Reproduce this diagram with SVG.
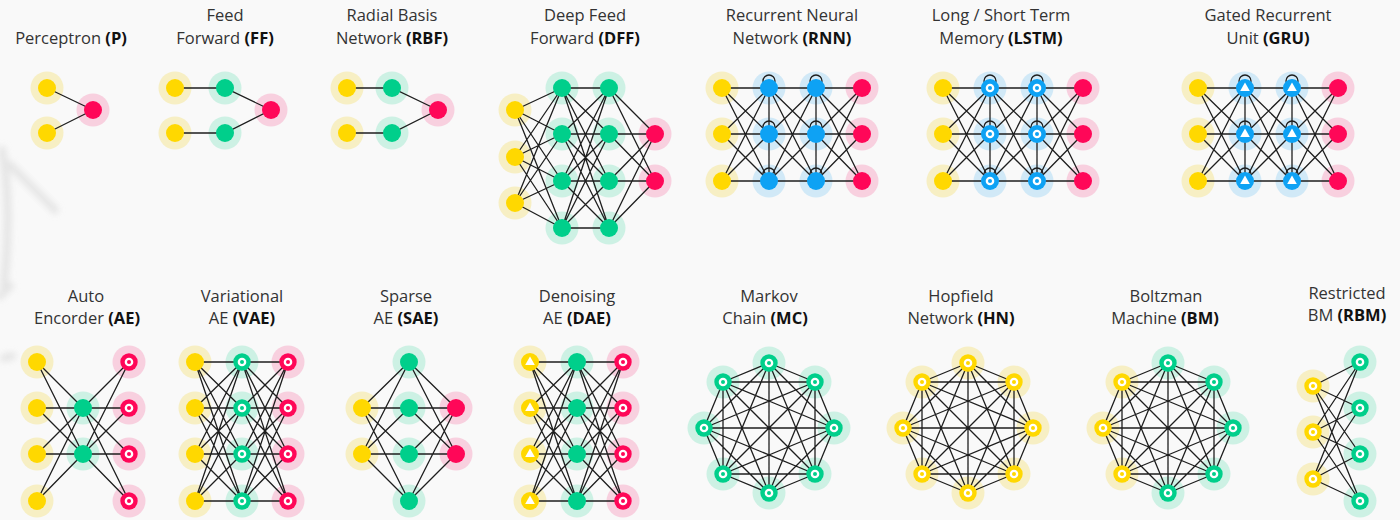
<svg xmlns="http://www.w3.org/2000/svg" xmlns:xlink="http://www.w3.org/1999/xlink" width="1400" height="520" viewBox="0 0 1400 520">
<style>
.e{fill:none;stroke:#1e1e1e;stroke-width:1.3}
.t{font-family:"Open Sans","Liberation Sans",sans-serif;font-size:16.5px;fill:#333;text-anchor:middle}
.b{font-weight:bold;fill:#111}
.cy{fill:#ffd800}.cg{fill:#00cf8b}.cb{fill:#0ea2f4}.cr{fill:#ff0758}.w{fill:#fff}
.hy{fill:#f7efc4}.hg{fill:#cdf1e4}.hb{fill:#d1e9f7}.hr{fill:#f8d0df}
</style>
<defs>
<filter id="blur" x="-50%" y="-50%" width="200%" height="200%"><feGaussianBlur stdDeviation="3"/></filter>
<circle id="hY" r="16.5" class="hy"/>
<circle id="hG" r="16.5" class="hg"/>
<circle id="hB" r="16.5" class="hb"/>
<circle id="hR" r="16.5" class="hr"/>
<circle id="Y" r="9" class="cy"/>
<circle id="G" r="9" class="cg"/>
<circle id="B" r="9" class="cb"/>
<circle id="R" r="9" class="cr"/>
<g id="RR"><circle r="8.7" class="cr"/><circle r="4.3" class="w"/><circle r="2" class="cr"/></g>
<g id="GR"><circle r="8.7" class="cg"/><circle r="4.3" class="w"/><circle r="2" class="cg"/></g>
<g id="YR"><circle r="8.7" class="cy"/><circle r="4.3" class="w"/><circle r="2" class="cy"/></g>
<g id="BR"><circle r="9" class="cb"/><circle r="4.3" class="w"/><circle r="2" class="cb"/></g>
<g id="BT"><circle r="9" class="cb"/><path d="M0 -5.5L4.8 3H-4.8Z" class="w"/></g>
<g id="YT"><circle r="9" class="cy"/><path d="M0 -5.5L4.8 3H-4.8Z" class="w"/></g>
<g id="h3x4"><use href="#hY" x="0" y="0"/><use href="#hY" x="0" y="46"/><use href="#hY" x="0" y="93"/><use href="#hB" x="47" y="0"/><use href="#hB" x="47" y="46"/><use href="#hB" x="47" y="93"/><use href="#hB" x="94" y="0"/><use href="#hB" x="94" y="46"/><use href="#hB" x="94" y="93"/><use href="#hR" x="140" y="0"/><use href="#hR" x="140" y="46"/><use href="#hR" x="140" y="93"/></g>
<g id="h4x3"><use href="#hY" x="0" y="0"/><use href="#hY" x="0" y="46"/><use href="#hY" x="0" y="92"/><use href="#hY" x="0" y="139"/><use href="#hG" x="47" y="0"/><use href="#hG" x="47" y="46"/><use href="#hG" x="47" y="92"/><use href="#hG" x="47" y="139"/><use href="#hR" x="93" y="0"/><use href="#hR" x="93" y="46"/><use href="#hR" x="93" y="92"/><use href="#hR" x="93" y="139"/></g>
<g id="rnnE"><path class="e" d="M0 0L47 0M0 0L47 46M0 0L47 93M0 46L47 0M0 46L47 46M0 46L47 93M0 93L47 0M0 93L47 46M0 93L47 93M47 0L94 0M47 0L94 46M47 0L94 93M47 46L94 0M47 46L94 46M47 46L94 93M47 93L94 0M47 93L94 46M47 93L94 93M94 0L140 0M94 0L140 46M94 0L140 93M94 46L140 0M94 46L140 46M94 46L140 93M94 93L140 0M94 93L140 46M94 93L140 93M47 0V93M94 0V93"/><circle class="e" cx="47" cy="-7" r="6"/><circle class="e" cx="47" cy="39" r="6"/><circle class="e" cx="47" cy="86" r="6"/><circle class="e" cx="94" cy="-7" r="6"/><circle class="e" cx="94" cy="39" r="6"/><circle class="e" cx="94" cy="86" r="6"/></g>
<path id="ae3" class="e" d="M0 0L47 0M0 0L47 46M0 0L47 92M0 0L47 139M0 46L47 0M0 46L47 46M0 46L47 92M0 46L47 139M0 92L47 0M0 92L47 46M0 92L47 92M0 92L47 139M0 139L47 0M0 139L47 46M0 139L47 92M0 139L47 139M47 0L93 0M47 0L93 46M47 0L93 92M47 0L93 139M47 46L93 0M47 46L93 46M47 46L93 92M47 46L93 139M47 92L93 0M47 92L93 46M47 92L93 92M47 92L93 139M47 139L93 0M47 139L93 46M47 139L93 92M47 139L93 139"/>
<path id="k8" class="e" d="M0 -65L46 -46M0 -65L65 0M0 -65L46 46M0 -65L0 65M0 -65L-46 46M0 -65L-65 0M0 -65L-46 -46M46 -46L65 0M46 -46L46 46M46 -46L0 65M46 -46L-46 46M46 -46L-65 0M46 -46L-46 -46M65 0L46 46M65 0L0 65M65 0L-46 46M65 0L-65 0M65 0L-46 -46M46 46L0 65M46 46L-46 46M46 46L-65 0M46 46L-46 -46M0 65L-46 46M0 65L-65 0M0 65L-46 -46M-46 46L-65 0M-46 46L-46 -46M-65 0L-46 -46"/>
</defs>
<rect width="1400" height="520" fill="#f9f9f9"/>
<g filter="url(#blur)" stroke="#e3e3e3" stroke-width="8" fill="none" stroke-linecap="round" opacity="0.9">
<path d="M2 150C8 180 10 230 4 285"/><path d="M10 165C25 180 40 195 55 210"/><path d="M0 296L10 286"/><path d="M4 358L12 356"/>
</g>
<g id="titles" class="t">
<text x="71" y="44">Perceptron <tspan class="b">(P)</tspan></text>
<text x="225" y="21">Feed</text><text x="225" y="44">Forward <tspan class="b">(FF)</tspan></text>
<text x="392" y="21">Radial Basis</text><text x="392" y="44">Network <tspan class="b">(RBF)</tspan></text>
<text x="585" y="21">Deep Feed</text><text x="585" y="44">Forward <tspan class="b">(DFF)</tspan></text>
<text x="792" y="21">Recurrent Neural</text><text x="792" y="44">Network <tspan class="b">(RNN)</tspan></text>
<text x="1001" y="21">Long / Short Term</text><text x="1001" y="44">Memory <tspan class="b">(LSTM)</tspan></text>
<text x="1268" y="21">Gated Recurrent</text><text x="1268" y="44">Unit <tspan class="b">(GRU)</tspan></text>
<text x="86" y="302">Auto</text><text x="87" y="324">Encorder <tspan class="b">(AE)</tspan></text>
<text x="242" y="302">Variational</text><text x="242" y="324">AE <tspan class="b">(VAE)</tspan></text>
<text x="406" y="302">Sparse</text><text x="406" y="324">AE <tspan class="b">(SAE)</tspan></text>
<text x="577" y="302">Denoising</text><text x="577" y="324">AE <tspan class="b">(DAE)</tspan></text>
<text x="769" y="302">Markov</text><text x="765" y="324">Chain <tspan class="b">(MC)</tspan></text>
<text x="961" y="302">Hopfield</text><text x="961" y="324">Network <tspan class="b">(HN)</tspan></text>
<text x="1166" y="302">Boltzman</text><text x="1165" y="324">Machine <tspan class="b">(BM)</tspan></text>
<text x="1347" y="299">Restricted</text><text x="1347" y="321">BM <tspan class="b">(RBM)</tspan></text>
</g>
<g id="halos">
<use href="#hY" x="47" y="88"/><use href="#hY" x="47" y="133"/><use href="#hR" x="93" y="110"/>
<use href="#hY" x="175" y="88"/><use href="#hY" x="175" y="133"/><use href="#hG" x="225" y="88"/><use href="#hG" x="225" y="133"/><use href="#hR" x="271" y="110"/>
<use href="#hY" x="347" y="88"/><use href="#hY" x="347" y="133"/><use href="#hG" x="392" y="88"/><use href="#hG" x="392" y="133"/><use href="#hR" x="438" y="110"/>
<use href="#hY" x="515" y="110"/><use href="#hY" x="515" y="157"/><use href="#hY" x="515" y="203"/>
<use href="#hG" x="562" y="88"/><use href="#hG" x="562" y="134"/><use href="#hG" x="562" y="181"/><use href="#hG" x="562" y="228"/>
<use href="#hG" x="609" y="88"/><use href="#hG" x="609" y="134"/><use href="#hG" x="609" y="181"/><use href="#hG" x="609" y="228"/>
<use href="#hR" x="655" y="134"/><use href="#hR" x="655" y="181"/>
<use href="#h3x4" x="722" y="88"/><use href="#h3x4" x="943" y="88"/><use href="#h3x4" x="1198" y="88"/>
<use href="#hY" x="37" y="362"/><use href="#hY" x="37" y="408"/><use href="#hY" x="37" y="454"/><use href="#hY" x="37" y="501"/>
<use href="#hG" x="83" y="408"/><use href="#hG" x="83" y="454"/>
<use href="#hR" x="129" y="362"/><use href="#hR" x="129" y="408"/><use href="#hR" x="129" y="454"/><use href="#hR" x="129" y="501"/>
<use href="#h4x3" x="195" y="362"/><use href="#h4x3" x="530" y="362"/>
<use href="#hG" x="409" y="362"/><use href="#hG" x="409" y="408"/><use href="#hG" x="409" y="454"/><use href="#hG" x="409" y="501"/>
<use href="#hY" x="362" y="408"/><use href="#hY" x="362" y="454"/><use href="#hR" x="456" y="408"/><use href="#hR" x="456" y="454"/>
<use href="#hG" x="769" y="363"/><use href="#hG" x="815" y="382"/><use href="#hG" x="834" y="428"/><use href="#hG" x="815" y="474"/><use href="#hG" x="769" y="493"/><use href="#hG" x="723" y="474"/><use href="#hG" x="704" y="428"/><use href="#hG" x="723" y="382"/>
<use href="#hY" x="968" y="363"/><use href="#hY" x="1014" y="382"/><use href="#hY" x="1033" y="428"/><use href="#hY" x="1014" y="474"/><use href="#hY" x="968" y="493"/><use href="#hY" x="922" y="474"/><use href="#hY" x="903" y="428"/><use href="#hY" x="922" y="382"/>
<use href="#hG" x="1168" y="363"/><use href="#hG" x="1214" y="382"/><use href="#hG" x="1233" y="428"/><use href="#hG" x="1214" y="474"/><use href="#hG" x="1168" y="493"/><use href="#hY" x="1122" y="474"/><use href="#hY" x="1103" y="428"/><use href="#hY" x="1122" y="382"/>
<use href="#hY" x="1313" y="386"/><use href="#hY" x="1313" y="432"/><use href="#hY" x="1313" y="479"/>
<use href="#hG" x="1360" y="362"/><use href="#hG" x="1360" y="408"/><use href="#hG" x="1360" y="454"/><use href="#hG" x="1360" y="501"/>
</g>
<g id="connectors">
<path id="e-p" class="e" d="M47 88L93 110M47 133L93 110"/>
<path id="e-ff" class="e" d="M175 88H225L271 110M175 133H225L271 110"/>
<path id="e-rbf" class="e" d="M347 88H392L438 110M347 133H392L438 110"/>
<path id="e-dff" class="e" d="M515 110L562 88M515 110L562 134M515 110L562 181M515 110L562 228M515 157L562 88M515 157L562 134M515 157L562 181M515 157L562 228M515 203L562 88M515 203L562 134M515 203L562 181M515 203L562 228M562 88L609 88M562 88L609 134M562 88L609 181M562 88L609 228M562 134L609 88M562 134L609 134M562 134L609 181M562 134L609 228M562 181L609 88M562 181L609 134M562 181L609 181M562 181L609 228M562 228L609 88M562 228L609 134M562 228L609 181M562 228L609 228M609 88L655 134M609 88L655 181M609 134L655 134M609 134L655 181M609 181L655 134M609 181L655 181M609 228L655 134M609 228L655 181"/>
<use id="e-rnn" href="#rnnE" x="722" y="88"/>
<use id="e-lstm" href="#rnnE" x="943" y="88"/>
<use id="e-gru" href="#rnnE" x="1198" y="88"/>
<path id="e-ae" class="e" d="M37 362L83 408M37 362L83 454M37 408L83 408M37 408L83 454M37 454L83 408M37 454L83 454M37 501L83 408M37 501L83 454M83 408L129 362M83 408L129 408M83 408L129 454M83 408L129 501M83 454L129 362M83 454L129 408M83 454L129 454M83 454L129 501"/>
<use id="e-vae" href="#ae3" x="195" y="362"/>
<path id="e-sae" class="e" d="M362 408L409 362M362 408L409 408M362 408L409 454M362 408L409 501M362 454L409 362M362 454L409 408M362 454L409 454M362 454L409 501M409 362L456 408M409 362L456 454M409 408L456 408M409 408L456 454M409 454L456 408M409 454L456 454M409 501L456 408M409 501L456 454"/>
<use id="e-dae" href="#ae3" x="530" y="362"/>
<use id="e-mc" href="#k8" x="769" y="428"/>
<use id="e-hn" href="#k8" x="968" y="428"/>
<use id="e-bm" href="#k8" x="1168" y="428"/>
<path id="e-rbm" class="e" d="M1313 386L1360 362M1313 386L1360 408M1313 386L1360 454M1313 386L1360 501M1313 432L1360 362M1313 432L1360 408M1313 432L1360 454M1313 432L1360 501M1313 479L1360 362M1313 479L1360 408M1313 479L1360 454M1313 479L1360 501"/>
</g>
<g id="nodes">
<g id="p-i1"><use href="#Y" x="47" y="88"/></g><g id="p-i2"><use href="#Y" x="47" y="133"/></g><g id="p-o1"><use href="#R" x="93" y="110"/></g>
<g id="ff-i1"><use href="#Y" x="175" y="88"/></g><g id="ff-i2"><use href="#Y" x="175" y="133"/></g><g id="ff-h1"><use href="#G" x="225" y="88"/></g><g id="ff-h2"><use href="#G" x="225" y="133"/></g><g id="ff-o1"><use href="#R" x="271" y="110"/></g>
<g id="rbf-i1"><use href="#Y" x="347" y="88"/></g><g id="rbf-i2"><use href="#Y" x="347" y="133"/></g><g id="rbf-h1"><use href="#G" x="392" y="88"/></g><g id="rbf-h2"><use href="#G" x="392" y="133"/></g><g id="rbf-o1"><use href="#R" x="438" y="110"/></g>
<g id="dff-i1"><use href="#Y" x="515" y="110"/></g><g id="dff-i2"><use href="#Y" x="515" y="157"/></g><g id="dff-i3"><use href="#Y" x="515" y="203"/></g>
<g id="dff-a1"><use href="#G" x="562" y="88"/></g><g id="dff-a2"><use href="#G" x="562" y="134"/></g><g id="dff-a3"><use href="#G" x="562" y="181"/></g><g id="dff-a4"><use href="#G" x="562" y="228"/></g>
<g id="dff-b1"><use href="#G" x="609" y="88"/></g><g id="dff-b2"><use href="#G" x="609" y="134"/></g><g id="dff-b3"><use href="#G" x="609" y="181"/></g><g id="dff-b4"><use href="#G" x="609" y="228"/></g>
<g id="dff-o1"><use href="#R" x="655" y="134"/></g><g id="dff-o2"><use href="#R" x="655" y="181"/></g>
<g id="rnn-i1"><use href="#Y" x="722" y="88"/></g><g id="rnn-i2"><use href="#Y" x="722" y="134"/></g><g id="rnn-i3"><use href="#Y" x="722" y="181"/></g>
<g id="rnn-a1"><use href="#B" x="769" y="88"/></g><g id="rnn-a2"><use href="#B" x="769" y="134"/></g><g id="rnn-a3"><use href="#B" x="769" y="181"/></g>
<g id="rnn-b1"><use href="#B" x="816" y="88"/></g><g id="rnn-b2"><use href="#B" x="816" y="134"/></g><g id="rnn-b3"><use href="#B" x="816" y="181"/></g>
<g id="rnn-o1"><use href="#R" x="862" y="88"/></g><g id="rnn-o2"><use href="#R" x="862" y="134"/></g><g id="rnn-o3"><use href="#R" x="862" y="181"/></g>
<g id="lstm-i1"><use href="#Y" x="943" y="88"/></g><g id="lstm-i2"><use href="#Y" x="943" y="134"/></g><g id="lstm-i3"><use href="#Y" x="943" y="181"/></g>
<g id="lstm-a1"><use href="#BR" x="990" y="88"/></g><g id="lstm-a2"><use href="#BR" x="990" y="134"/></g><g id="lstm-a3"><use href="#BR" x="990" y="181"/></g>
<g id="lstm-b1"><use href="#BR" x="1037" y="88"/></g><g id="lstm-b2"><use href="#BR" x="1037" y="134"/></g><g id="lstm-b3"><use href="#BR" x="1037" y="181"/></g>
<g id="lstm-o1"><use href="#R" x="1083" y="88"/></g><g id="lstm-o2"><use href="#R" x="1083" y="134"/></g><g id="lstm-o3"><use href="#R" x="1083" y="181"/></g>
<g id="gru-i1"><use href="#Y" x="1198" y="88"/></g><g id="gru-i2"><use href="#Y" x="1198" y="134"/></g><g id="gru-i3"><use href="#Y" x="1198" y="181"/></g>
<g id="gru-a1"><use href="#BT" x="1245" y="88"/></g><g id="gru-a2"><use href="#BT" x="1245" y="134"/></g><g id="gru-a3"><use href="#BT" x="1245" y="181"/></g>
<g id="gru-b1"><use href="#BT" x="1292" y="88"/></g><g id="gru-b2"><use href="#BT" x="1292" y="134"/></g><g id="gru-b3"><use href="#BT" x="1292" y="181"/></g>
<g id="gru-o1"><use href="#R" x="1338" y="88"/></g><g id="gru-o2"><use href="#R" x="1338" y="134"/></g><g id="gru-o3"><use href="#R" x="1338" y="181"/></g>
<g id="ae-i1"><use href="#Y" x="37" y="362"/></g><g id="ae-i2"><use href="#Y" x="37" y="408"/></g><g id="ae-i3"><use href="#Y" x="37" y="454"/></g><g id="ae-i4"><use href="#Y" x="37" y="501"/></g>
<g id="ae-h1"><use href="#G" x="83" y="408"/></g><g id="ae-h2"><use href="#G" x="83" y="454"/></g>
<g id="ae-o1"><use href="#RR" x="129" y="362"/></g><g id="ae-o2"><use href="#RR" x="129" y="408"/></g><g id="ae-o3"><use href="#RR" x="129" y="454"/></g><g id="ae-o4"><use href="#RR" x="129" y="501"/></g>
<g id="vae-i1"><use href="#Y" x="195" y="362"/></g><g id="vae-i2"><use href="#Y" x="195" y="408"/></g><g id="vae-i3"><use href="#Y" x="195" y="454"/></g><g id="vae-i4"><use href="#Y" x="195" y="501"/></g>
<g id="vae-h1"><use href="#GR" x="242" y="362"/></g><g id="vae-h2"><use href="#GR" x="242" y="408"/></g><g id="vae-h3"><use href="#GR" x="242" y="454"/></g><g id="vae-h4"><use href="#GR" x="242" y="501"/></g>
<g id="vae-o1"><use href="#RR" x="288" y="362"/></g><g id="vae-o2"><use href="#RR" x="288" y="408"/></g><g id="vae-o3"><use href="#RR" x="288" y="454"/></g><g id="vae-o4"><use href="#RR" x="288" y="501"/></g>
<g id="sae-i1"><use href="#Y" x="362" y="408"/></g><g id="sae-i2"><use href="#Y" x="362" y="454"/></g>
<g id="sae-h1"><use href="#G" x="409" y="362"/></g><g id="sae-h2"><use href="#G" x="409" y="408"/></g><g id="sae-h3"><use href="#G" x="409" y="454"/></g><g id="sae-h4"><use href="#G" x="409" y="501"/></g>
<g id="sae-o1"><use href="#R" x="456" y="408"/></g><g id="sae-o2"><use href="#R" x="456" y="454"/></g>
<g id="dae-i1"><use href="#YT" x="530" y="362"/></g><g id="dae-i2"><use href="#YT" x="530" y="408"/></g><g id="dae-i3"><use href="#YT" x="530" y="454"/></g><g id="dae-i4"><use href="#YT" x="530" y="501"/></g>
<g id="dae-h1"><use href="#G" x="577" y="362"/></g><g id="dae-h2"><use href="#G" x="577" y="408"/></g><g id="dae-h3"><use href="#G" x="577" y="454"/></g><g id="dae-h4"><use href="#G" x="577" y="501"/></g>
<g id="dae-o1"><use href="#RR" x="623" y="362"/></g><g id="dae-o2"><use href="#RR" x="623" y="408"/></g><g id="dae-o3"><use href="#RR" x="623" y="454"/></g><g id="dae-o4"><use href="#RR" x="623" y="501"/></g>
<g id="mc-1"><use href="#GR" x="769" y="363"/></g><g id="mc-2"><use href="#GR" x="815" y="382"/></g><g id="mc-3"><use href="#GR" x="834" y="428"/></g><g id="mc-4"><use href="#GR" x="815" y="474"/></g><g id="mc-5"><use href="#GR" x="769" y="493"/></g><g id="mc-6"><use href="#GR" x="723" y="474"/></g><g id="mc-7"><use href="#GR" x="704" y="428"/></g><g id="mc-8"><use href="#GR" x="723" y="382"/></g>
<g id="hn-1"><use href="#YR" x="968" y="363"/></g><g id="hn-2"><use href="#YR" x="1014" y="382"/></g><g id="hn-3"><use href="#YR" x="1033" y="428"/></g><g id="hn-4"><use href="#YR" x="1014" y="474"/></g><g id="hn-5"><use href="#YR" x="968" y="493"/></g><g id="hn-6"><use href="#YR" x="922" y="474"/></g><g id="hn-7"><use href="#YR" x="903" y="428"/></g><g id="hn-8"><use href="#YR" x="922" y="382"/></g>
<g id="bm-1"><use href="#GR" x="1168" y="363"/></g><g id="bm-2"><use href="#GR" x="1214" y="382"/></g><g id="bm-3"><use href="#GR" x="1233" y="428"/></g><g id="bm-4"><use href="#GR" x="1214" y="474"/></g><g id="bm-5"><use href="#GR" x="1168" y="493"/></g><g id="bm-6"><use href="#YR" x="1122" y="474"/></g><g id="bm-7"><use href="#YR" x="1103" y="428"/></g><g id="bm-8"><use href="#YR" x="1122" y="382"/></g>
<g id="rbm-v1"><use href="#YR" x="1313" y="386"/></g><g id="rbm-v2"><use href="#YR" x="1313" y="432"/></g><g id="rbm-v3"><use href="#YR" x="1313" y="479"/></g>
<g id="rbm-h1"><use href="#GR" x="1360" y="362"/></g><g id="rbm-h2"><use href="#GR" x="1360" y="408"/></g><g id="rbm-h3"><use href="#GR" x="1360" y="454"/></g><g id="rbm-h4"><use href="#GR" x="1360" y="501"/></g>
</g>
</svg>
